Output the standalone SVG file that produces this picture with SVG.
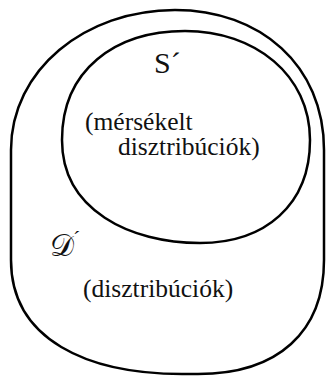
<svg xmlns="http://www.w3.org/2000/svg" width="330" height="376" viewBox="0 0 330 376">
<style>
.set{fill:none;stroke:#000;stroke-width:2.5}
text{font-family:'Liberation Serif','Times New Roman',Times,serif;fill:#111}
</style>
<rect width="330" height="376" fill="#fff"/>
<g id="outer">
<path class="set" d="M175,10 C260,10 324,65 324,150 L324,260 C324,332 278,374 198,374 L182,374 C88,374 11,340 11,260 L11,150 C11,70 85,10 175,10 Z"/>
<text x="50" y="256" font-size="30" font-family="'DejaVu Serif',serif">𝒟</text>
<text x="73" y="246" font-size="22" font-family="'Liberation Serif',serif">´</text>
<text x="83" y="297" font-size="25.5" font-family="'Liberation Serif',serif">(disztribúciók)</text>
</g>
<g id="inner">
<path class="set" d="M185,31 C255,31 310,75 310,140 C310,205 265,243 200,243 C130,243 62,210 62,140 C62,70 115,31 185,31 Z"/>
<text x="154" y="73" font-size="30" font-family="'Liberation Serif',serif">S´</text>
<text x="85" y="130" font-size="25.5" font-family="'Liberation Serif',serif">(mérsékelt</text>
<text x="118" y="155" font-size="25.5" font-family="'Liberation Serif',serif">disztribúciók)</text>
</g>
</svg>
